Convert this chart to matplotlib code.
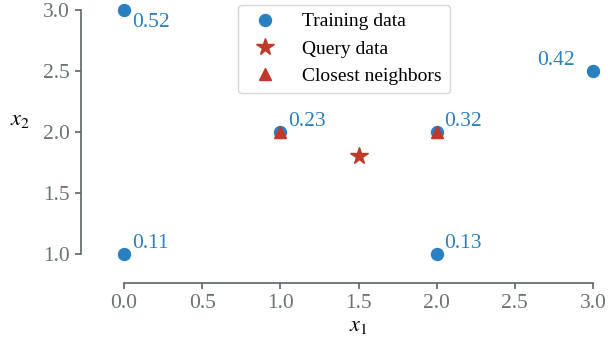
import matplotlib
matplotlib.use('Agg')
import matplotlib.pyplot as plt
import numpy as np

plt.rcParams['font.family'] = ['Liberation Serif', 'DejaVu Serif']
plt.rcParams['mathtext.fontset'] = 'stix'

# 训练数据、查询点与最近邻
train_x = [0, 0, 1, 2, 2, 3]
train_y = [3, 1, 2, 2, 1, 2.5]
train_labels = ['0.52', '0.11', '0.23', '0.32', '0.13', '0.42']
query_x = [1.5]
query_y = [1.8]
neighbor_x = [1, 2]
neighbor_y = [2, 2]
ticks = [0.0, 0.5, 1.0, 1.5, 2.0, 2.5, 3.0]
yticks = [1.0, 1.5, 2.0, 2.5, 3.0]

blue = '#2a80bf'
red = '#c0392b'
gray = '#5d6566'
tick_gray = '#6b7273'

fig = plt.figure(figsize=(6.08, 3.45), dpi=100)
ax = fig.add_axes([0.15625, 0.2203, 0.8306, 0.7710])

ax.plot(train_x, train_y, 'o', color=blue, markersize=8.6, label='Training data', clip_on=False)
ax.plot(query_x, query_y, '*', color=red, markersize=13, label='Query data', clip_on=False)
ax.plot(neighbor_x, neighbor_y, '^', color=red, markersize=8, label='Closest neighbors', clip_on=False)

# 数值标签位置（偏移，单位为点）
offsets = {'0.52': (5.5, -2.0, 'left', 'top'),
           '0.42': (-13, 4.5, 'right', 'baseline')}
for x, y, t in zip(train_x, train_y, train_labels):
    dx, dy, ha, va = offsets.get(t, (5.5, 4.3, 'left', 'baseline'))
    ax.annotate(t, (x, y), xytext=(dx, dy), textcoords='offset points',
                ha=ha, va=va, color=blue, fontsize=15.5)

ax.set_xlim(-0.1855, 3.0448)
ax.set_ylim(0.877, 3.057)
ax.set_xticks(ticks)
ax.set_yticks(yticks)
ax.set_xticklabels([f'{t:.1f}' for t in ticks])
ax.set_yticklabels([f'{t:.1f}' for t in yticks])

for side in ['top', 'right']:
    ax.spines[side].set_visible(False)
for side in ['left', 'bottom']:
    ax.spines[side].set_position(('outward', 10))
    ax.spines[side].set_color(gray)
    ax.spines[side].set_linewidth(1.2)
ax.spines['bottom'].set_bounds(0, 3)
ax.spines['left'].set_bounds(1, 3)
ax.tick_params(colors=gray, labelcolor=tick_gray, labelsize=15.5, length=4, width=1.2, pad=4)

ax.set_xlabel('$x_1$', fontsize=16)
ax.xaxis.set_label_coords(0.522, -0.18)
ax.set_ylabel('$x_2$', fontsize=16, rotation=0, ha='center', va='center')
ax.yaxis.set_label_coords(-0.149, 0.56)

leg = ax.legend(loc='upper left', bbox_to_anchor=(238 / 608, 1 - 5 / 345),
                bbox_transform=fig.transFigure, borderaxespad=0, fontsize=14,
                frameon=True, fancybox=True, handletextpad=0.9, borderpad=0.4,
                labelspacing=0.5, handlelength=2.0)
leg.get_frame().set_edgecolor('#cccccc')

fig.savefig('out.png', dpi=100, facecolor='white')
